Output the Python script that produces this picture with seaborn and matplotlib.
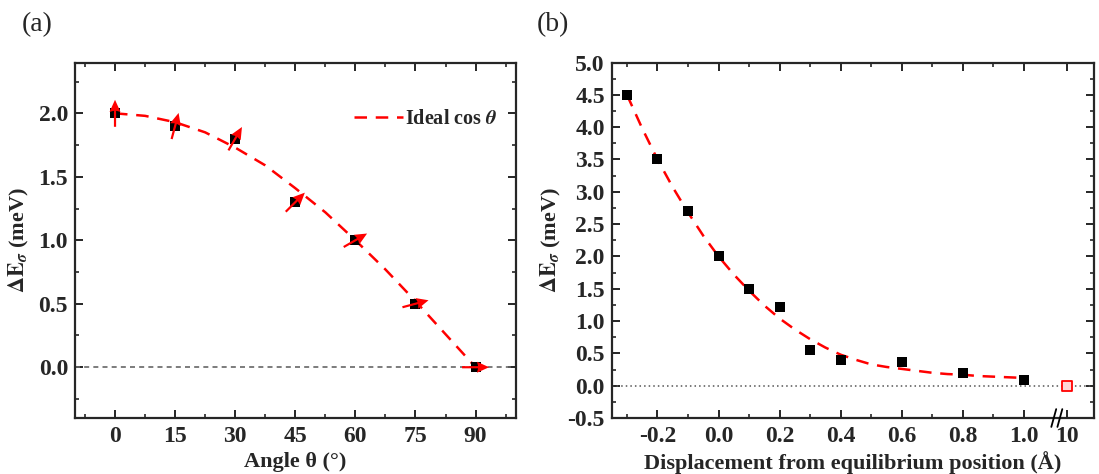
import numpy as np
import matplotlib
matplotlib.use("Agg")
import matplotlib.pyplot as plt
import seaborn as sns

# ---- panel (a): energy vs spin angle ----
angle_deg = [0, 15, 30, 45, 60, 75, 90]
dE_angle = [2.0, 1.9, 1.8, 1.3, 1.0, 0.5, 0.0]
arrow_dir = [90, 75, 60, 45, 30, 15, 0]     # arrow direction (deg)

# dashed "Ideal cos" curve
cos_x = [0, 7.5, 15, 22.5, 30, 37.5, 45, 52.5, 60, 67.5, 75, 82.5, 90]
cos_y = [2.0, 1.98, 1.93, 1.85, 1.73, 1.59, 1.41, 1.22, 1.0, 0.77, 0.52, 0.26, 0.0]

# ---- panel (b): energy vs displacement ----
disp = [-0.3, -0.2, -0.1, 0.0, 0.1, 0.2, 0.3, 0.4, 0.6, 0.8, 1.0]
dE_disp = [4.5, 3.5, 2.7, 2.0, 1.5, 1.21, 0.55, 0.39, 0.365, 0.19, 0.095]
far_disp = [10]
far_dE = [0.0]

fit_x = [-0.3, -0.25, -0.2, -0.15, -0.1, -0.05, 0.0, 0.05, 0.1, 0.15, 0.2, 0.25, 0.3,
         0.35, 0.4, 0.45, 0.5, 0.55, 0.6, 0.65, 0.7, 0.75, 0.8, 0.85, 0.9, 0.95, 1.0]
fit_y = [4.5, 3.98, 3.5, 3.07, 2.68, 2.32, 2.0, 1.72, 1.47, 1.24, 1.04, 0.87, 0.72,
         0.59, 0.48, 0.40, 0.33, 0.29, 0.26, 0.23, 0.20, 0.18, 0.17, 0.15, 0.14, 0.13, 0.12]

xticks_b = [-0.2, 0.0, 0.2, 0.4, 0.6, 0.8, 1.0]

sns.set_style("ticks")
plt.rcParams['font.family'] = ['Liberation Serif', 'DejaVu Serif']
plt.rcParams['font.weight'] = 'bold'
plt.rcParams['axes.labelweight'] = 'bold'
plt.rcParams['mathtext.fontset'] = 'stix'
plt.rcParams['axes.linewidth'] = 1.6
plt.rcParams['xtick.direction'] = 'in'
plt.rcParams['ytick.direction'] = 'in'
plt.rcParams['xtick.top'] = True
plt.rcParams['ytick.right'] = True
plt.rcParams['xtick.major.size'] = 5.5
plt.rcParams['ytick.major.size'] = 5.5
plt.rcParams['xtick.minor.size'] = 3
plt.rcParams['ytick.minor.size'] = 3
plt.rcParams['xtick.major.width'] = 1.4
plt.rcParams['ytick.major.width'] = 1.4
plt.rcParams['xtick.minor.width'] = 1.2
plt.rcParams['ytick.minor.width'] = 1.2
plt.rcParams['xtick.major.pad'] = 6
plt.rcParams['ytick.major.pad'] = 5

FS = 17      # tick labels
LFS = 16     # axis labels
fig = plt.figure(figsize=(10.99, 4.74), dpi=100)
ax1 = fig.add_axes([0.0682, 0.1181, 0.401, 0.75])
ax2 = fig.add_axes([0.5566, 0.1181, 0.4389, 0.75])

# ---------- (a) ----------
ax1.axhline(0, color='#666666', ls=(0, (3, 2.5)), lw=1.2, zorder=1)
sns.lineplot(x=cos_x, y=cos_y, ax=ax1, color='red', lw=1.8, linestyle=(0, (5, 3.5)),
             sort=False, estimator=None, label=r'Ideal cos $\mathit{\theta}$', zorder=2)
sns.scatterplot(x=angle_deg, y=dE_angle, ax=ax1, marker='s', color='black', s=45,
                linewidth=0, zorder=3, legend=False)
phi = np.radians(arrow_dir)
ax1.quiver(angle_deg, dE_angle, np.cos(phi), np.sin(phi), color='red', angles='uv',
           pivot='middle', units='dots', width=2.2, headwidth=5, headlength=5.5,
           headaxislength=5, scale_units='dots', scale=1 / 27, zorder=4)

ax1.set_xlim(-10, 100)
ax1.set_ylim(-0.4, 2.4)
ax1.set_xticks(angle_deg)
ax1.set_xticks(np.arange(-7.5, 100, 15), minor=True)
ax1.set_yticks([0.0, 0.5, 1.0, 1.5, 2.0])
ax1.set_yticks(np.arange(-0.25, 2.4, 0.5), minor=True)
ax1.set_yticklabels([f'{v:.1f}' for v in [0.0, 0.5, 1.0, 1.5, 2.0]])
ax1.tick_params(labelsize=FS)
ax1.set_xlabel('Angle θ (°)', fontsize=LFS, labelpad=3)
ax1.set_ylabel(r'$\Delta\mathbf{E}_{\sigma}$ (meV)', fontsize=LFS, labelpad=5)
ax1.legend(loc='center right', bbox_to_anchor=(0.958, 0.841), frameon=False,
           fontsize=14.5, handlelength=2.4, borderpad=0, borderaxespad=0, handletextpad=0.1)
for sp in ax1.spines.values():
    sp.set_linewidth(1.6)

# ---------- (b) ----------
break_pos = 1.14   # axis position used for the value after the break
ax2.axhline(0, color='#555555', ls=(0, (1, 2)), lw=1.1, zorder=1)
sns.lineplot(x=fit_x, y=fit_y, ax=ax2, color='red', lw=1.8, linestyle=(0, (5, 3.5)),
             sort=False, estimator=None, zorder=2)
sns.scatterplot(x=disp, y=dE_disp, ax=ax2, marker='s', color='black', s=55,
                linewidth=0, zorder=3, legend=False)
sns.scatterplot(x=[break_pos] * len(far_disp), y=far_dE, ax=ax2, marker='s',
                facecolor='#ffd6d6', edgecolor='red', linewidth=1.3, s=45, zorder=3,
                legend=False)

ax2.set_xlim(-0.35, 1.23)
ax2.set_ylim(-0.5, 5.0)
ax2.set_xticks(xticks_b + [break_pos])
ax2.set_xticklabels([f'{v:.1f}' for v in xticks_b] + [str(v) for v in far_disp])
ax2.set_xticks(np.arange(-0.3, 1.0, 0.2), minor=True)
yt = np.arange(-0.5, 5.01, 0.5)
ax2.set_yticks(yt)
ax2.set_yticklabels([f'{v:.1f}' for v in yt])
ax2.set_yticks(np.arange(-0.25, 5.0, 0.5), minor=True)
ax2.tick_params(labelsize=FS)
ax2.set_xlabel('Displacement from equilibrium position (Å)', fontsize=LFS, labelpad=3)
ax2.set_ylabel(r'$\Delta\mathbf{E}_{\sigma}$ (meV)', fontsize=LFS, labelpad=3)
for sp in ax2.spines.values():
    sp.set_linewidth(1.6)

# axis break marks on the bottom spine
trans = ax2.get_xaxis_transform()
for bx in (1.098, 1.118):
    ax2.plot([bx - 0.008, bx + 0.008], [-0.025, 0.025], color='black', lw=1.3,
             transform=trans, clip_on=False, zorder=5)

fig.text(0.034, 0.948, '(a)', fontsize=20, fontweight='normal', ha='center', va='center')
fig.text(0.503, 0.948, '(b)', fontsize=20, fontweight='normal', ha='center', va='center')

fig.savefig('out.png', dpi=100)
